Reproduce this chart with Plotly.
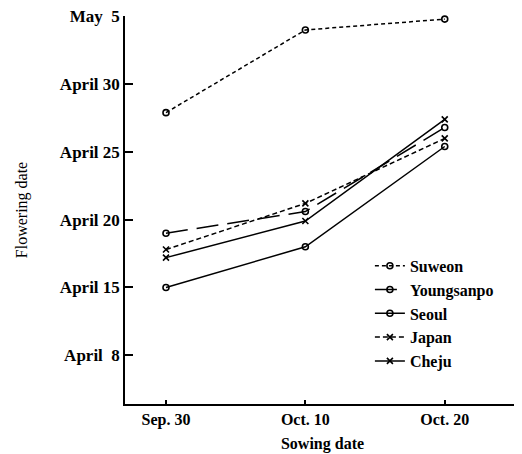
import plotly.graph_objects as go

# Sowing dates (days after Sep. 30) and tick labels
sowing_days = [0, 10, 20]
sowing_labels = ["Sep. 30", "Oct. 10", "Oct. 20"]

# Flowering date tick positions (drawn evenly spaced as in the original figure)
flower_tick_vals = [10, 15, 20, 25, 30, 35]
flower_tick_labels = ["April  8", "April 15", "April 20", "April 25", "April 30", "May  5"]

# Flowering dates (day of April; 35 = May 5)
suweon = [27.9, 34.0, 34.8]
youngsanpo = [19.0, 20.6, 26.8]
seoul = [15.0, 18.0, 25.4]
japan = [17.8, 21.2, 26.0]
cheju = [17.2, 19.9, 27.4]

series = [
    ("Suweon", suweon, "4px,3px", "circle-open"),
    ("Youngsanpo", youngsanpo, "22px,9px", "circle-open"),
    ("Seoul", seoul, "solid", "circle-open"),
    ("Japan", japan, "5px,3px", "x-thin"),
    ("Cheju", cheju, "solid", "x-thin"),
]

fig = go.Figure()
for name, vals, dash, sym in series:
    fig.add_trace(go.Scatter(
        x=sowing_days, y=vals, name=name, mode="lines+markers",
        line=dict(color="black", width=1.5, dash=dash),
        marker=dict(symbol=sym, size=6, color="black", line=dict(color="black", width=1.6)),
        cliponaxis=False,
    ))

serif = "Liberation Serif"
fig.update_layout(
    width=514, height=446,
    margin=dict(l=117, r=2, t=8, b=50),
    paper_bgcolor="white", plot_bgcolor="white",
    font=dict(family=serif, color="#000000"),
    showlegend=True,
    legend=dict(
        x=0.62, y=0.40, xanchor="left", yanchor="top",
        font=dict(family=serif, size=16, color="#000000", weight="bold"),
        bgcolor="rgba(0,0,0,0)", itemwidth=30, tracegroupgap=0,
    ),
    xaxis=dict(
        range=[-2.94, 25.4], tickvals=sowing_days, ticktext=sowing_labels,
        automargin=False,
        showgrid=False, zeroline=False, showline=True, linecolor="black", linewidth=1.5,
        ticks="inside", ticklen=4, tickwidth=1.5, tickcolor="black",
        tickfont=dict(family=serif, size=16, color="#000000", weight="bold"),
        title=dict(text="Sowing date", font=dict(family=serif, size=16, color="#000000", weight="bold"), standoff=10),
    ),
    yaxis=dict(
        range=[6.4, 35.03], tickvals=flower_tick_vals, ticktext=flower_tick_labels,
        automargin=False, ticklabeloverflow="allow",
        showgrid=False, zeroline=False, showline=True, linecolor="black", linewidth=1.5,
        ticks="inside", ticklen=8, tickwidth=1.5, tickcolor="black",
        tickfont=dict(family=serif, size=17, color="#000000", weight="bold"),
        title=dict(text="Flowering date", font=dict(family=serif, size=16, color="#000000"), standoff=28),
    ),
)

fig.write_html("out.html")
